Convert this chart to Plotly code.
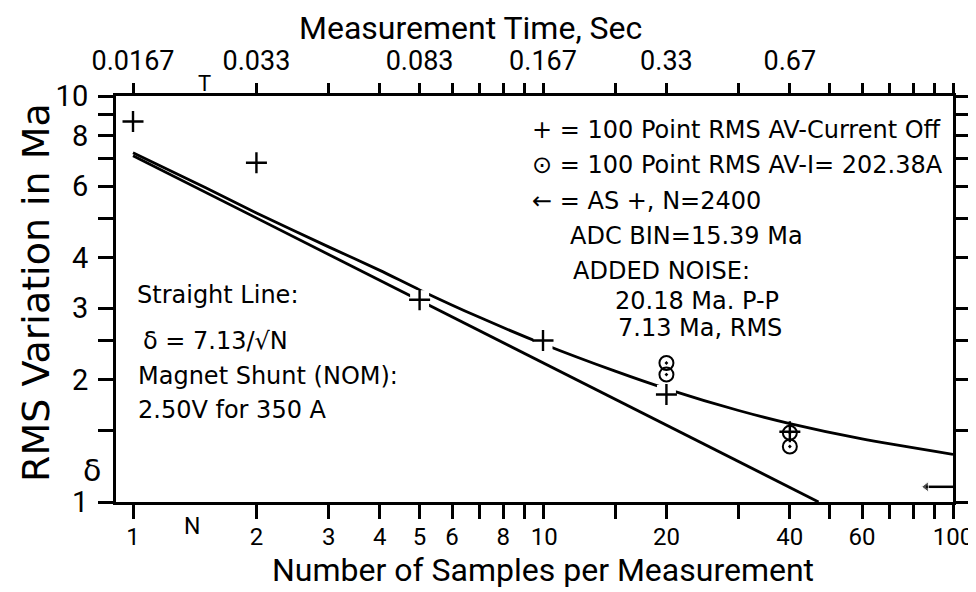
import plotly.graph_objects as go

# ---- data ----
plus_N = [1, 2, 5, 10, 20, 40]
plus_d = [8.65, 6.85, 3.15, 2.50, 1.84, 1.49]

circ_N = [20, 20, 40, 40]
circ_d = [2.20, 2.06, 1.48, 1.37]

curve_N = [1, 1.5, 2, 3, 4, 5, 7, 10, 15, 20, 30, 40, 60, 100]
curve_d = [7.25, 5.95, 5.15, 4.25, 3.72, 3.33, 2.85, 2.45, 2.10, 1.90, 1.68, 1.56, 1.43, 1.31]

line_N = [1, 47]
line_d = [7.13, 1.0]

arrow_N = [86, 100]
arrow_d = [1.09, 1.09]

gap_N = [5, 10, 20]          # plus marks that interrupt the curve

x_ticks = [1, 2, 3, 4, 5, 6, 7, 8, 9, 10, 15, 20, 30, 40, 50, 60, 70, 80, 90, 100]
x_label_N = [1, 2, 3, 4, 5, 6, 8, 10, 20, 40, 60, 100]
x_label_txt = ["1", "2", "3", "4", "5", "6", "8", "\u200a10", "20", "40", "60", "100"]
top_ticks = x_ticks
top_label_N = [1, 2, 5, 10, 20, 40]
top_label_txt = ["0.0167", "0.033", "0.083", "0.167", "0.33", "0.67"]
y_ticks = [1, 1.5, 2, 2.5, 3, 4, 5, 6, 7, 8, 9, 10]
y_labels = ["1", "", "2", "", "3", "4", "", "6", "", "8", "", "10"]

NARROW = "Roboto, Liberation Sans Narrow, sans-serif"
TEXTF = "DejaVu Sans, sans-serif"

def labels_for(ticks, lab_N, lab_txt):
    return [lab_txt[lab_N.index(t)] if t in lab_N else "" for t in ticks]

fig = go.Figure()

fig.add_trace(go.Scatter(x=curve_N, y=curve_d, mode="lines",
                         line=dict(color="black", width=2.8, shape="spline", smoothing=0.6),
                         hoverinfo="skip", showlegend=False))
fig.add_trace(go.Scatter(x=line_N, y=line_d, mode="lines",
                         line=dict(color="black", width=2.8),
                         hoverinfo="skip", showlegend=False))

gx = [n for n in plus_N if n in gap_N]
gy = [d for n, d in zip(plus_N, plus_d) if n in gap_N]
fig.add_trace(go.Scatter(x=gx, y=gy, mode="markers",
                         marker=dict(symbol="square", size=19, color="white"),
                         hoverinfo="skip", showlegend=False))

fig.add_trace(go.Scatter(x=circ_N, y=circ_d, mode="markers",
                         marker=dict(symbol="circle-open-dot", size=14, color="black",
                                     line=dict(width=2, color="black")),
                         hoverinfo="skip", showlegend=False))
fig.add_trace(go.Scatter(x=plus_N, y=plus_d, mode="markers",
                         marker=dict(symbol="cross-thin", size=15,
                                     line=dict(width=2.4, color="black")),
                         hoverinfo="skip", showlegend=False))
fig.add_trace(go.Scatter(x=arrow_N, y=arrow_d, mode="lines+markers",
                         line=dict(color="black", width=2.5),
                         marker=dict(symbol=["triangle-left", "circle"], size=[9, 0], color="black"),
                         hoverinfo="skip", showlegend=False))
# helper so the top/right axes are drawn
fig.add_trace(go.Scatter(x=plus_N[:1], y=plus_d[:1], xaxis="x2", yaxis="y2", mode="markers",
                         marker=dict(opacity=0), hoverinfo="skip", showlegend=False))

xr = [-0.0415, 2.0]
axis_common = dict(showgrid=False, zeroline=False, showline=True, linecolor="black",
                   linewidth=3, ticks="outside", tickcolor="black", tickwidth=2.5,
                   tickangle=0)

fig.update_layout(
    width=976, height=592,
    margin=dict(l=108, r=31, t=88, b=98),
    paper_bgcolor="white", plot_bgcolor="white",
    xaxis=dict(type="log", range=xr, tickmode="array", tickvals=x_ticks,
               ticktext=labels_for(x_ticks, x_label_N, x_label_txt),
               ticklen=14, ticklabelstandoff=-3,
               tickfont=dict(family=NARROW, size=24, color="black"), **axis_common),
    xaxis2=dict(type="log", range=xr, overlaying="x", side="top", anchor="y",
                tickmode="array", tickvals=top_ticks,
                ticktext=labels_for(top_ticks, top_label_N, top_label_txt),
                ticklen=10, ticklabelstandoff=2,
                tickfont=dict(family=NARROW, size=27, color="black"), **axis_common),
    yaxis=dict(type="log", range=[0, 1], tickmode="array", tickvals=y_ticks, ticktext=y_labels,
               ticklen=15, ticklabelstandoff=4,
               tickfont=dict(family=NARROW, size=29, color="black"), **axis_common),
    yaxis2=dict(type="log", range=[0, 1], overlaying="y", side="right", anchor="x",
                tickmode="array", tickvals=y_ticks, showticklabels=False,
                ticklen=15, **axis_common),
)

def px(xp, yp):
    return (xp - 108) / 837, (494 - yp) / 406

def note(text, xp, yp, size=24, anchor="left", family=TEXTF, angle=0):
    x, y = px(xp, yp)
    fig.add_annotation(text=text, x=x, y=y, xref="paper", yref="paper", showarrow=False,
                       xanchor=anchor, yanchor="middle", textangle=angle,
                       font=dict(family=family, size=size, color="black"))

# titles
note("Measurement Time, Sec", 462, 20, size=32, anchor="center", family=NARROW)
note("Number of Samples per Measurement", 535, 562, size=32, anchor="center", family=NARROW)
note("RMS Variation in Ma", 28, 285, size=38, anchor="center", family=TEXTF, angle=-90)
note("T", 196, 75, size=22, anchor="center", family=NARROW)
note("N", 184, 518, size=23, anchor="center", family=NARROW)
note("δ", 84, 462, size=30, anchor="center", family=TEXTF)

# legend block
note("+ = 100 Point RMS AV-Current Off", 935, 122, anchor="right")
note("⊙ = 100 Point RMS AV-I= 202.38A", 937, 157, anchor="right")
note("← = AS +, N=2400", 522, 193)
note("ADC BIN=15.39 Ma", 560, 228)
note("ADDED NOISE:", 563, 263)
note("20.18 Ma. P-P", 605, 293)
note("7.13 Ma, RMS", 608, 320)

# left block
note("Straight Line:", 127, 287)
note("δ = 7.13/√N", 133, 333)
note("Magnet Shunt (NOM):", 128, 368)
note("2.50V for 350 A", 128, 402)

fig.write_html("out.html")
